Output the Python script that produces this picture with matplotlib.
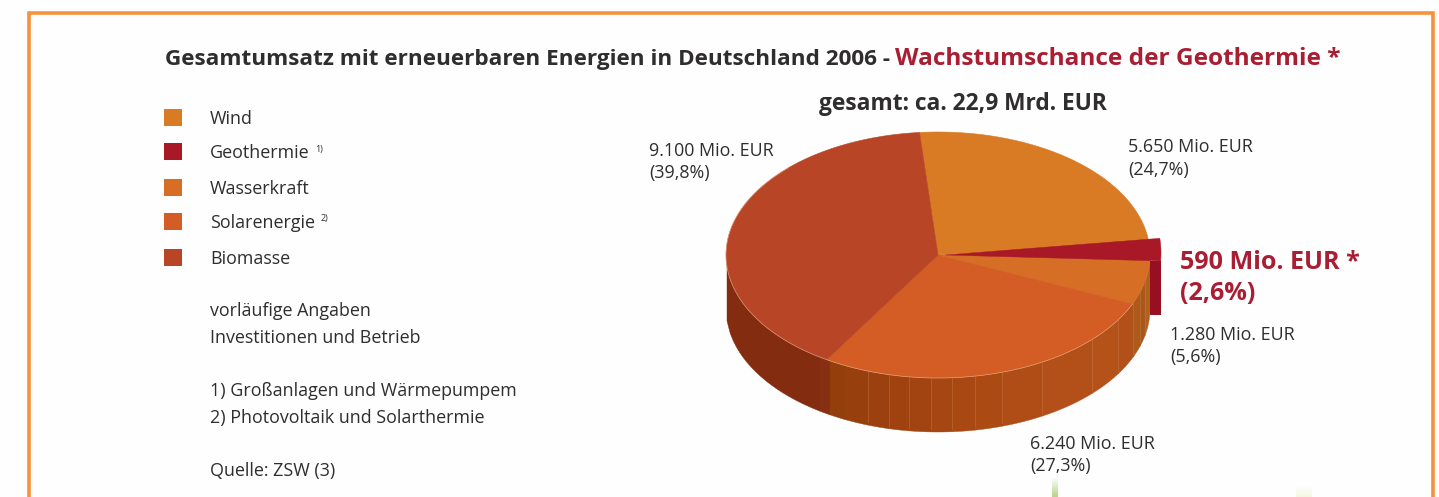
import numpy as np
import matplotlib as mpl
mpl.use('Agg')
import matplotlib.pyplot as plt
from matplotlib.patches import Polygon, Rectangle

plt.rcParams['font.family'] = ['Open Sans', 'DejaVu Sans']

# data
categories = ['Wind', 'Geothermie', 'Wasserkraft', 'Solarenergie', 'Biomasse']
legend_notes = ['', '1)', '', '2)', '']
values = [5650, 590, 1280, 6240, 9100]
value_labels = ['5.650 Mio. EUR\n(24,7%)', '590 Mio. EUR *\n(2,6%)', '1.280 Mio. EUR\n(5,6%)',
                '6.240 Mio. EUR\n(27,3%)', '9.100 Mio. EUR\n(39,8%)']
colors = ['#d97b24', '#a91827', '#d66e25', '#d35d24', '#b84525']
notes = ['vorläufige Angaben', 'Investitionen und Betrieb', '',
         '1) Großanlagen und Wärmepumpem', '2) Photovoltaik und Solarthermie', '',
         'Quelle: ZSW (3)']

W, H = 1439, 497
TXT = '#2f2d2e'
RED = '#a91e32'

fig = plt.figure(figsize=(W/100, H/100), dpi=100, facecolor='#fefefe')
ax = fig.add_axes([0, 0, 1, 1])
ax.set_xlim(0, W)
ax.set_ylim(H, 0)
ax.axis('off')

# frame, open at the bottom
ax.plot([29, 29, 1433, 1433], [H, 13, 13, H], color='#f7923a', lw=2.6, solid_joinstyle='miter')

# faint green smudges from the photo below
ax.imshow(np.linspace(0, 1, 20)[:, None], extent=(1052, 1058, H, 477), cmap=mpl.colors.LinearSegmentedColormap.from_list('g', ['#fefefe', '#b9d48c']), aspect='auto', zorder=1)
ax.imshow(np.linspace(0, 1, 20)[:, None], extent=(1296, 1312, H, 486), cmap=mpl.colors.LinearSegmentedColormap.from_list('g', ['#fefefe', '#f4f8e0']), aspect='auto', zorder=1)
ax.set_xlim(0, W)
ax.set_ylim(H, 0)

# titles
ax.text(165, 60, 'Gesamtumsatz mit erneuerbaren Energien in Deutschland 2006 -', fontsize=16.2, fontweight='bold', color=TXT, va='center', ha='left')
ax.text(895, 59, 'Wachstumschance der Geothermie *', fontsize=17.6, fontweight='bold', color=RED, va='center', ha='left')
ax.text(962.5, 104, 'gesamt: ca. 22,9 Mrd. EUR', fontsize=16.4, fontweight='bold', color=TXT, va='center', ha='center')

# legend
legend_y = [117.5, 151.5, 187, 221, 257]
for i in range(len(categories)):
    ax.add_patch(Rectangle((164, legend_y[i]-8.5), 18, 17, fc=colors[i], ec='none'))
    t = ax.text(210, legend_y[i]+1.5, categories[i], fontsize=12.9, color=TXT, va='center', ha='left')
    if legend_notes[i]:
        ext = t.get_window_extent(fig.canvas.get_renderer())
        ax.text(ext.x1+6, legend_y[i]-2, legend_notes[i], fontsize=6.5, color=TXT, va='center', ha='left')

note_y = [311, 338, 0, 391, 418, 0, 471]
for s, y in zip(notes, note_y):
    if s:
        ax.text(210, y, s, fontsize=12.9, color=TXT, va='center', ha='left')

# pie geometry
cx, cy, rx, ry, depth = 938, 255, 212, 123, 54
fracs = np.array(values)/sum(values)
start = 95.0
edges = start - 360*np.concatenate([[0], np.cumsum(fracs)])

def rim(a1, a2, n=120, x0=cx, y0=cy, a=rx, b=ry):
    t = np.radians(np.linspace(a1, a2, n))
    return x0 + a*np.cos(t), y0 - b*np.sin(t)

# side wall, cut in the vertical strips seen in the picture
strip_x = [727, 820, 830, 845, 868, 889, 909, 931, 952, 975, 1002, 1042, 1092, 1118, 1133, 1140, 1145, 1150]
strip_col = ['#842c10', '#862f12', '#923f0b', '#973f0d', '#9b400e', '#9f4210', '#a24411', '#a64612',
             '#a94813', '#ac4a14', '#b04c16', '#b34f18', '#b5521a', '#b2501a', '#ad5a1a', '#a9581b', '#b0601f']
for k in range(len(strip_x)-1):
    xs = np.linspace(strip_x[k], strip_x[k+1], 30)
    top = cy + ry*np.sqrt(np.clip(1-((xs-cx)/rx)**2, 0, 1))
    pts = np.r_[np.c_[xs, top], np.c_[xs[::-1], top[::-1]+depth]]
    ax.add_patch(Polygon(pts, fc=strip_col[k], ec=strip_col[k], lw=0.3, zorder=2))
    if k > 2 and k < len(strip_x)-2:
        ax.plot([xs[-1], xs[-1]], [top[-1], top[-1]+depth-3], color='#d08a55', lw=0.5, alpha=0.45, zorder=2.5)

# top faces; the Geothermie slice is pulled out and goes on last
order = [0, 2, 3, 4]
for i in order:
    # Wasserkraft runs a little under the red slice so no gap shows
    a1 = edges[i] + 3 if i == 2 else edges[i]
    x, y = rim(a1, edges[i+1])
    ax.add_patch(Polygon(np.r_[[[cx, cy]], np.c_[x, y]], fc=colors[i], ec=colors[i], lw=0.4, zorder=3))

# thin light rim on the lower edge
x, y = rim(edges[3], edges[5]+40)
ax.plot(x, y, color='#f0c8a8', lw=0.5, alpha=0.6, zorder=3.2)

gx, gy = rim(edges[1], edges[2], x0=cx+7, y0=cy-2, a=216, b=140)
ax.add_patch(Rectangle((1150, gy[-1]), gx[-1]-1150, depth, fc='#970f20', ec='none', zorder=3.5))
ax.add_patch(Polygon(np.r_[[[cx+7, cy]], np.c_[gx, gy]], fc=colors[1], ec=colors[1], lw=0.3, zorder=4))

# value labels
ax.text(649, 162, value_labels[4], fontsize=12.9, color=TXT, va='center', ha='left', linespacing=1.3)
ax.text(1128, 158.5, value_labels[0], fontsize=12.9, color=TXT, va='center', ha='left', linespacing=1.3)
ax.text(1170, 346, value_labels[2], fontsize=12.9, color=TXT, va='center', ha='left', linespacing=1.3)
ax.text(1030, 455, value_labels[3], fontsize=12.9, color=TXT, va='center', ha='left', linespacing=1.3)
ax.text(1180, 278, value_labels[1], fontsize=18.1, fontweight='bold', color=RED, va='center', ha='left', linespacing=1.28)

fig.savefig('out.png', dpi=100, facecolor=fig.get_facecolor())
